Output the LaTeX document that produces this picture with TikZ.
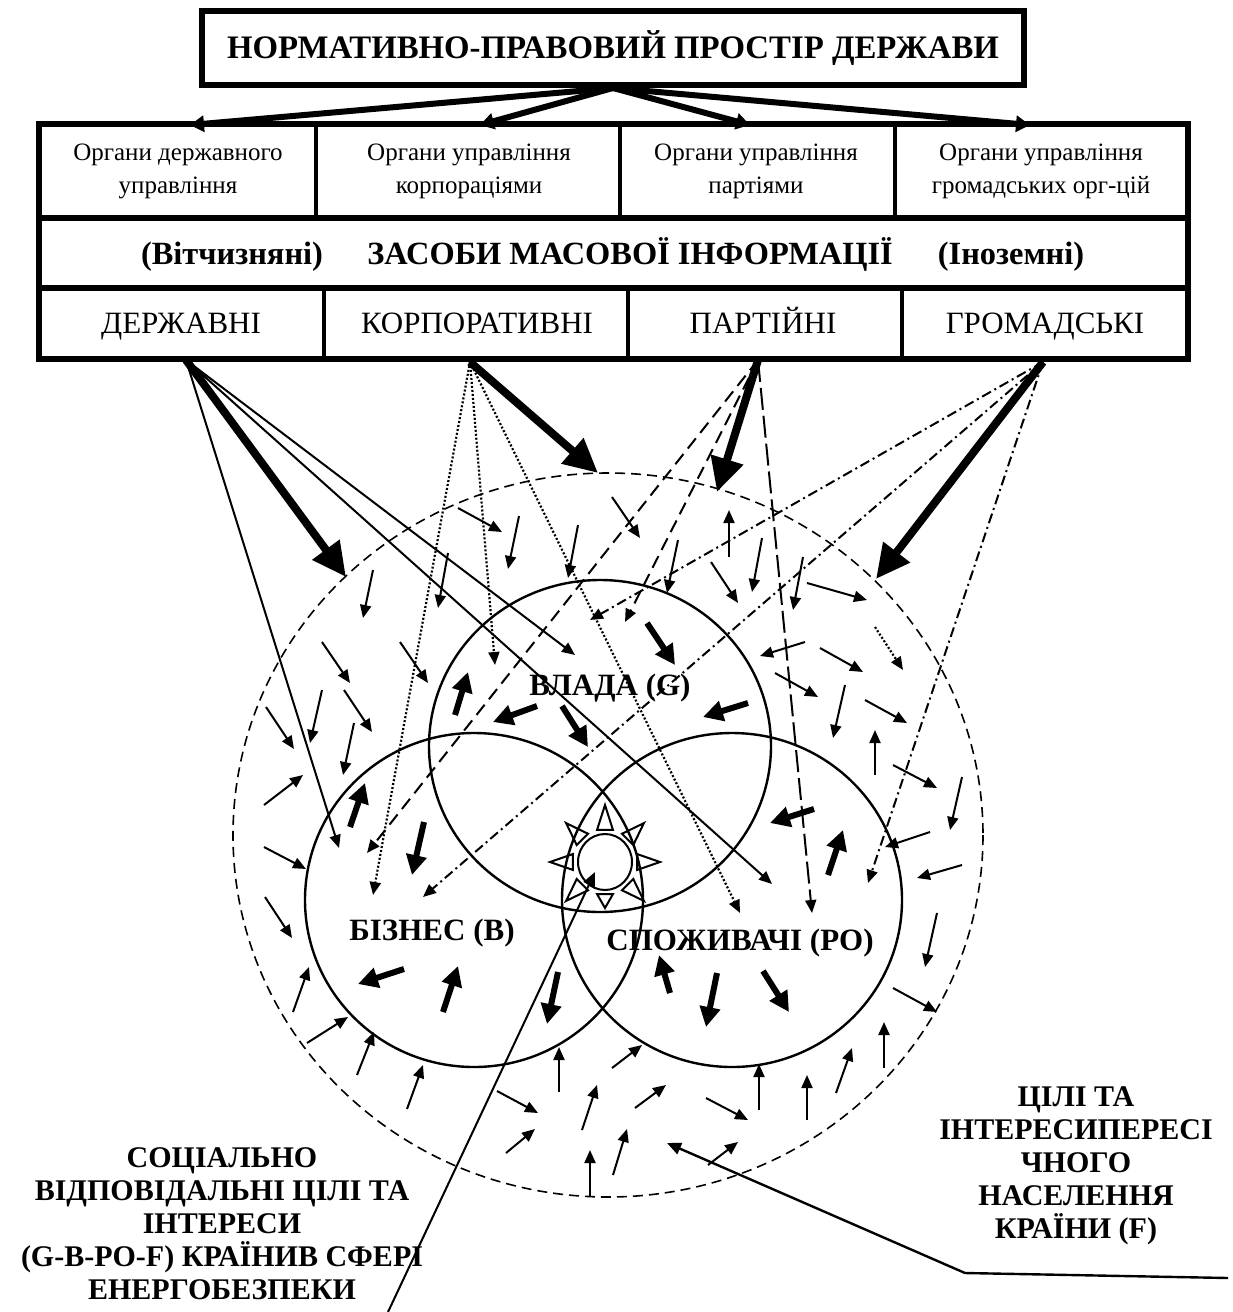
\documentclass[tikz,border=0pt]{standalone}
\usepackage{fontspec}
\setmainfont{Liberation Serif}
\usetikzlibrary{arrows.meta}

\tikzset{
  fld/.style={line width=1pt,-{Triangle[length=6.5pt,width=5.5pt]}},
  midarr/.style={line width=3pt,-{Triangle[length=10pt,width=10pt]}},
  bigarr/.style={line width=4pt,-{Triangle[length=17pt,width=16pt]}},
  toparr/.style={line width=3pt,-{Triangle[length=7pt,width=8pt]}},
  dotline/.style={fld,dash pattern=on 1pt off 1pt,line width=1.1pt},
  dashline/.style={fld,dash pattern=on 6.5pt off 3.5pt},
  longdash/.style={fld,dash pattern=on 11pt off 3pt},
  dashdot/.style={fld,dash pattern=on 5pt off 2pt on 1pt off 2pt},
  zone/.style={line width=1.2pt},
  org/.style={font=\fontsize{12.5}{16.5}\selectfont,align=center},
  media/.style={font=\fontsize{15.5}{18}\selectfont,anchor=base},
  zmi/.style={font=\bfseries\fontsize{16.2}{18}\selectfont,anchor=base},
  circname/.style={font=\bfseries\fontsize{15.5}{16.5}\selectfont,anchor=base},
  lbl/.style={font=\bfseries\fontsize{15}{16.5}\selectfont,align=center},
}

\begin{document}
\begin{tikzpicture}[x=0.5pt,y=-0.5pt]
\useasboundingbox (0,0) rectangle (1232,1312);

% title and the table of bodies
\node[draw,line width=3pt,minimum width=411pt,minimum height=37pt,inner sep=0pt,
  font=\bfseries\fontsize{16.4}{19}\selectfont] (title) at (613,48) {НОРМАТИВНО-ПРАВОВИЙ ПРОСТІР ДЕРЖАВИ};

\draw[line width=3pt] (39,124) rectangle (1188,218);
\draw[line width=3pt] (39,218) rectangle (1188,288);
\draw[line width=3pt] (39,288) rectangle (1188,359);
\foreach \x in {316,620,895} \draw[line width=2pt] (\x,124) -- (\x,218);
\foreach \x in {324,628,902} \draw[line width=2pt] (\x,288) -- (\x,359);

\node[org] (org1) at (178,171) {Органи державного\\управління};
\node[org] (org2) at (469,171) {Органи управління\\корпораціями};
\node[org] (org3) at (756,171) {Органи управління\\партіями};
\node[org] (org4) at (1041,171) {Органи управління\\громадських орг-цій};

\node[zmi] (vitch) at (232,264) {(Вітчизняні)};
\node[zmi] (zmi) at (630,264) {ЗАСОБИ МАСОВОЇ ІНФОРМАЦІЇ};
\node[zmi] (inoz) at (1011,264) {(Іноземні)};

\node[media] (derzh) at (181,333) {ДЕРЖАВНІ};
\node[media] (korp) at (477,333) {КОРПОРАТИВНІ};
\node[media] (part) at (763,333) {ПАРТІЙНІ};
\node[media] (grom) at (1045,333) {ГРОМАДСЬКІ};

\foreach \x [count=\i] in {190,480,750,1030} \coordinate (t\i) at (\x,125);
\foreach \i in {1,...,4} \draw[toparr] (title.south) -- (t\i);

% spheres
\draw[dash pattern=on 5pt off 3pt,line width=0.8pt] (608,835) ellipse [x radius=375,y radius=362];
\draw[zone] (600,746) ellipse [x radius=171,y radius=166];
\draw[zone] (474,900) ellipse [x radius=169,y radius=167];
\draw[zone] (732,900) ellipse [x radius=170,y radius=167];

\coordinate (sun) at (605,862);
\draw[line width=1pt] (sun) ellipse [x radius=27,y radius=28];
\foreach \a/\r in {0/55,45/55,90/46,135/55,180/55,225/55,270/57,315/55}
  \draw[line width=1pt,shift={(sun)}] (\a-14:33) -- (\a:\r) -- (\a+14:33) -- cycle;

% influence of the media
\coordinate (sD) at (186,360);
\coordinate (sK) at (470,362);
\coordinate (sP) at (758,360);
\coordinate (sG) at (1043,362);

\draw[bigarr] (sD) -- (346,577);
\draw[bigarr] (sK) -- (598,473);
\draw[bigarr] (sP) -- (717,492);
\draw[bigarr] (sG) -- (876,579);

\foreach \p in {(339,848),(575,655),(772,884)} \draw[fld] (sD) -- \p;
\foreach \p in {(373,895),(495,665),(740,913)} \draw[dotline] (sK) -- \p;
\foreach \p in {(367,853),(625,622)} \draw[dashline] (sP) -- \p;
\draw[longdash] (sP) -- (812,913);
\foreach \p in {(590,620),(423,897),(868,883)} \draw[dashdot] (sG) -- \p;
\draw[dotline] (875,627) -- (903,670);

% interests of the population
\foreach \xa/\ya/\xb/\yb in {458/508/502/532, 519/516/508/569, 578/525/568/578, 612/497/640/538,
  729/557/729/510, 678/540/667/593, 762/538/752/592, 711/562/738/603, 373/570/363/618,
  448/553/438/608, 807/583/867/600, 803/557/793/610,
  805/642/760/656, 820/648/863/672, 775/673/818/697, 845/685/833/738, 865/700/907/723,
  875/775/875/730, 893/765/937/788, 962/777/950/830, 930/832/885/847, 962/865/917/878,
  937/913/925/967, 893/988/937/1012,
  884/1068/884/1022, 836/1093/852/1048, 807/1120/807/1075, 759/1110/759/1064, 706/1098/748/1120,
  708/1165/738/1142, 635/1108/666/1085, 612/1068/642/1045, 613/1175/627/1129, 497/1091/538/1113,
  506/1153/535/1129, 559/1092/559/1047, 582/1130/597/1085, 590/1197/590/1150,
  265/897/292/938, 293/1012/309/967, 307/1043/348/1017, 357/1075/374/1032, 407/1109/423/1065,
  322/642/350/683, 400/642/428/683, 322/690/310/743, 344/690/372/732, 266/707/294/749,
  354/723/343/775, 264/805/303/775, 264/847/306/869}
  \draw[fld] (\xa,\ya) -- (\xb,\yb);

\foreach \xa/\ya/\xb/\yb in {455/715/468/672, 537/706/493/722, 562/706/588/747, 647/623/675/665,
  748/703/703/717, 350/827/365/783, 424/822/412/875, 404/969/358/984, 443/1012/458/966,
  558/972/547/1024, 814/809/770/823, 828/875/843/830, 670/993/659/955, 717/973/706/1027,
  763/971/789/1012}
  \draw[midarr] (\xa,\ya) -- (\xb,\yb);

% labels
\node[circname] (vlada) at (610,695) {ВЛАДА (G)};
\node[circname] (biznes) at (432,940) {БІЗНЕС (B)};
\node[circname] (spozh) at (740,950) {СПОЖИВАЧІ (PO)};

\node[lbl] (socgoal) at (222,1224) {СОЦІАЛЬНО\\ВІДПОВІДАЛЬНІ ЦІЛІ ТА\\ІНТЕРЕСИ\\(G-B-PO-F) КРАЇНИВ СФЕРІ\\ЕНЕРГОБЕЗПЕКИ};
\node[lbl] (popgoal) at (1076,1166) {ЦІЛІ ТА\\ІНТЕРЕСИПЕРЕСІ\\ЧНОГО\\НАСЕЛЕННЯ\\КРАЇНИ (F)};

\coordinate (pA) at (388,1312);
\draw[line width=1pt,-{Triangle[length=7pt,width=6pt]}] (pA) -- (595,872);
\coordinate (pB) at (1228,1278);
\coordinate (pBk) at (965,1273);
\draw[line width=1.2pt,-{Triangle[length=7pt,width=6pt]}] (pB) -- (pBk) -- (667,1143);
\end{tikzpicture}
\end{document}
